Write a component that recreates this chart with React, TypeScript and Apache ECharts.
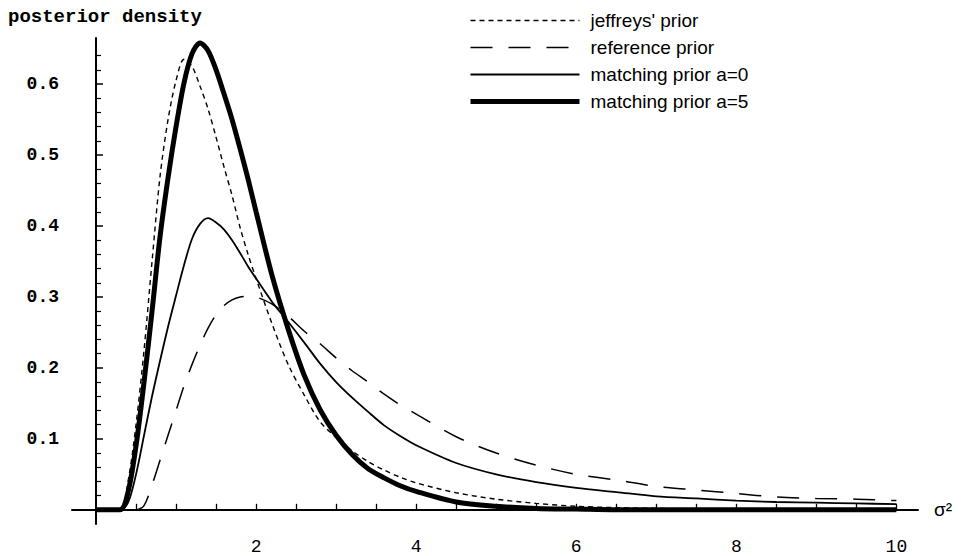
import React, { useEffect, useRef } from "react";
import * as echarts from "echarts";

const xs = [0, 0.3, 0.4, 0.5, 0.6, 0.7, 0.8, 0.9, 1.0, 1.1, 1.2, 1.3, 1.4, 1.5, 1.6, 1.7, 1.8, 1.9, 2.0, 2.2, 2.4, 2.6, 2.8, 3.0, 3.2, 3.4, 3.6, 3.8, 4.0, 4.5, 5.0, 5.5, 6.0, 6.5, 7.0, 7.5, 8.0, 8.5, 9.0, 9.5, 10.0];

const jeffreys = [0, 0, 0.04, 0.12, 0.225, 0.35, 0.47, 0.55, 0.605, 0.635, 0.625, 0.597, 0.565, 0.525, 0.483, 0.443, 0.398, 0.36, 0.326, 0.262, 0.205, 0.162, 0.124, 0.102, 0.083, 0.068, 0.056, 0.046, 0.038, 0.024, 0.015, 0.009, 0.005, 0.003, 0.002, 0.001, 0.001, 0, 0, 0, 0];

const reference = [0, 0, 0, 0, 0.006, 0.035, 0.07, 0.105, 0.14, 0.175, 0.205, 0.232, 0.256, 0.275, 0.288, 0.296, 0.3, 0.301, 0.3, 0.29, 0.273, 0.252, 0.234, 0.214, 0.196, 0.18, 0.163, 0.148, 0.135, 0.103, 0.08, 0.063, 0.05, 0.042, 0.033, 0.028, 0.023, 0.018, 0.016, 0.015, 0.013];

const matching0 = [0, 0, 0.01, 0.05, 0.105, 0.16, 0.21, 0.258, 0.302, 0.345, 0.382, 0.403, 0.411, 0.405, 0.395, 0.38, 0.362, 0.343, 0.326, 0.293, 0.265, 0.236, 0.206, 0.18, 0.158, 0.138, 0.119, 0.104, 0.091, 0.066, 0.05, 0.039, 0.031, 0.025, 0.019, 0.016, 0.013, 0.011, 0.01, 0.009, 0.008];

const matching5 = [0, 0, 0.025, 0.09, 0.18, 0.28, 0.385, 0.468, 0.54, 0.602, 0.643, 0.658, 0.647, 0.62, 0.586, 0.55, 0.509, 0.466, 0.42, 0.33, 0.255, 0.19, 0.141, 0.105, 0.078, 0.058, 0.045, 0.034, 0.026, 0.011, 0.005, 0.002, 0.001, 0, 0, 0, 0, 0, 0, 0, 0];

const seriesNames = ["jeffreys' prior", "reference prior", "matching prior a=0", "matching prior a=5"];

const xTickValues = [0.5, 1, 1.5, 2, 2.5, 3, 3.5, 4, 4.5, 5, 5.5, 6, 6.5, 7, 7.5, 8, 8.5, 9, 9.5, 10];
const xLabelValues = [2, 4, 6, 8, 10];
const yLabelValues = [0.1, 0.2, 0.3, 0.4, 0.5, 0.6];
const yMinorValues = [0.02, 0.04, 0.06, 0.08, 0.12, 0.14, 0.16, 0.18, 0.22, 0.24, 0.26, 0.28, 0.32, 0.34, 0.36, 0.38, 0.42, 0.44, 0.46, 0.48, 0.52, 0.54, 0.56, 0.58, 0.62, 0.64];

const pairs = (ys: number[]) => xs.map((x, i) => [x, ys[i]]);

export default function App() {
  const ref = useRef<HTMLDivElement>(null);
  useEffect(() => {
    document.body.style.margin = "0";
    const chart = echarts.init(ref.current!, null, { renderer: "svg" });
    const mono = "'Liberation Mono', 'DejaVu Sans Mono', monospace";
    const sans = "'Liberation Sans', Arial, sans-serif";
    const styles: [number, any][] = [
      [1.4, [5, 4]],
      [1.5, [22, 16]],
      [1.8, "solid"],
      [5, "solid"],
    ];
    const mk = (i: number, ys: number[]) => ({
      name: seriesNames[i],
      type: "line",
      data: pairs(ys),
      symbol: "none",
      showSymbol: false,
      smooth: 0.3,
      clip: false,
      lineStyle: { color: "#000", width: styles[i][0], type: styles[i][1] },
      itemStyle: { color: "#000" },
      z: i === 3 ? 3 : 2,
    });
    chart.setOption({
      animation: false,
      backgroundColor: "#fff",
      title: {
        text: "posterior density",
        left: 3,
        top: 2,
        textStyle: { fontFamily: mono, fontSize: 19, fontWeight: "bold", color: "#000" },
      },
      legend: {
        orient: "vertical",
        left: 463,
        top: 5,
        itemWidth: 109,
        itemHeight: 12,
        itemGap: 6,
        selectedMode: false,
        data: seriesNames.map((name, i) => ({
          name,
          itemStyle: { opacity: 0 },
          lineStyle: { color: "#000", width: styles[i][0], type: styles[i][1] },
        })),
        textStyle: { fontFamily: sans, fontSize: 19, lineHeight: 21, color: "#000", padding: [0, 0, 0, 6] },
      },
      grid: { left: 72, top: 38, width: 846, height: 495.5, containLabel: false },
      xAxis: {
        type: "value",
        min: -0.3,
        max: 10.27,
        name: "σ²",
        nameLocation: "end",
        nameGap: 16,
        nameTextStyle: { fontFamily: sans, fontSize: 19, color: "#000" },
        splitLine: { show: false },
        axisLine: { onZero: true, lineStyle: { color: "#000", width: 2 } },
        axisTick: { show: true, inside: true, length: 6, customValues: xTickValues, lineStyle: { color: "#000", width: 1.3 } },
        axisLabel: {
          customValues: xLabelValues,
          margin: 14,
          fontFamily: mono,
          fontSize: 18,
          color: "#000",
        },
      },
      yAxis: [
        {
          type: "value",
          min: -0.02,
          max: 0.665,
          splitLine: { show: false },
          axisLine: { onZero: true, lineStyle: { color: "#000", width: 2 } },
          axisTick: { show: true, inside: true, length: 7, customValues: yLabelValues, lineStyle: { color: "#000", width: 1.5 } },
          axisLabel: {
            customValues: yLabelValues,
            margin: 13,
            fontFamily: mono,
            fontSize: 18,
            fontWeight: "bold",
            color: "#000",
            formatter: (v: number) => v.toFixed(1),
          },
        },
        {
          type: "value",
          min: -0.02,
          max: 0.665,
          position: "left",
          offset: -24,
          splitLine: { show: false },
          axisLine: { show: false, onZero: false },
          axisTick: { show: true, inside: true, length: 5, customValues: yMinorValues, lineStyle: { color: "#000", width: 1.2 } },
          axisLabel: { show: false },
        },
      ],
      series: [
        mk(0, jeffreys),
        mk(1, reference),
        mk(2, matching0),
        mk(3, matching5),
      ],
    });
    return () => chart.dispose();
  }, []);
  return <div ref={ref} style={{ width: 971, height: 556 }} />;
}
